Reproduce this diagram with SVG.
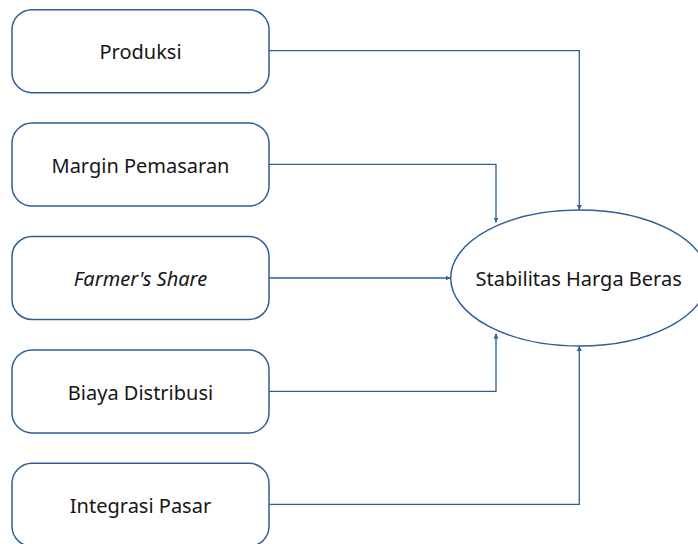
<svg xmlns="http://www.w3.org/2000/svg" width="698" height="544" viewBox="0 0 698 544">
<defs>
<marker id="ah" viewBox="0 0 10 10" refX="10" refY="5" markerWidth="5" markerHeight="6" markerUnits="userSpaceOnUse" orient="auto"><path d="M0,0 L10,5 L0,10 Z" fill="#2d5f99"/></marker>
<style>
.box{fill:#fff;stroke:#2d5f99;stroke-width:1.5}
.lbl{font-family:"Noto Sans","Liberation Sans",sans-serif;font-size:20px;fill:#161616;text-anchor:middle}
.cn{fill:none;stroke:#2d5f99;stroke-width:1.3;marker-end:url(#ah)}
</style>
</defs>
<rect width="698" height="544" fill="#fff"/>
<g id="connectors">
<path class="cn" d="M269,50.7 H579.3 V210"/>
<path class="cn" d="M269,164.3 H496 V222.5"/>
<path class="cn" d="M269,278 H450.5"/>
<path class="cn" d="M269,391.3 H496 V333.5"/>
<path class="cn" d="M269,504.3 H579.3 V346"/>
</g>
<g id="n1"><rect class="box" x="12" y="9.7" width="257" height="83" rx="20"/><text class="lbl" x="140.5" y="59">Produksi</text></g>
<g id="n2"><rect class="box" x="12" y="123.1" width="257" height="83" rx="20"/><text class="lbl" x="140.5" y="172.5">Margin Pemasaran</text></g>
<g id="n3"><rect class="box" x="12" y="236.5" width="257" height="83" rx="20"/><text class="lbl" x="140.5" y="286" font-style="italic">Farmer's Share</text></g>
<g id="n4"><rect class="box" x="12" y="349.9" width="257" height="83" rx="20"/><text class="lbl" x="140.5" y="399.5">Biaya Distribusi</text></g>
<g id="n5"><rect class="box" x="12" y="463.3" width="257" height="83" rx="20"/><text class="lbl" x="140.5" y="512.5">Integrasi Pasar</text></g>
<g id="target"><ellipse class="box" cx="579.3" cy="278" rx="128.6" ry="68"/><text class="lbl" x="578.7" y="286">Stabilitas Harga Beras</text></g>
</svg>
